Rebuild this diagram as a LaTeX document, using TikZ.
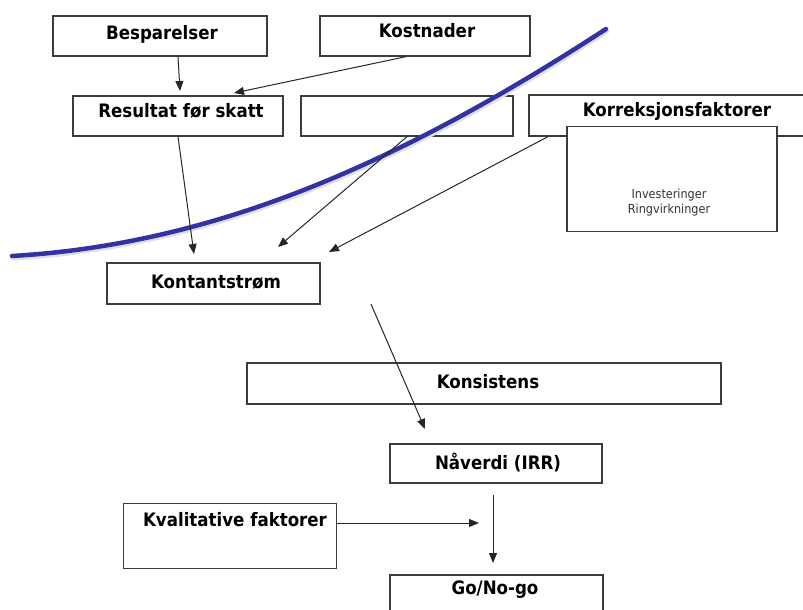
\documentclass[tikz,border=0pt]{standalone}
\usepackage{fontspec}
\setmainfont{DejaVu Sans}[FakeStretch=0.9]
\usetikzlibrary{arrows.meta}
\definecolor{curveblue}{RGB}{50,50,165}
\definecolor{boxline}{RGB}{60,60,60}
\tikzset{
  box/.style={draw=boxline, line width=1.3pt, fill=white, inner sep=0pt},
  lab/.style={font=\fontsize{18.5}{20}\selectfont\bfseries, inner sep=0pt, text=black},
  small/.style={font=\fontsize{12.5}{15}\selectfont, inner sep=0pt, align=center, text=black!80},
  arr/.style={draw=black!85, line width=1pt, -{Triangle[length=10pt,width=8pt]}},
}
\begin{document}
\begin{tikzpicture}[x=1pt,y=-1pt]
\useasboundingbox (0,0) rectangle (803,610);
\clip (0,0) rectangle (803,610);
% boxes
\node[box, minimum width=214, minimum height=40] (bes) at (160,36) {};
\node[box, minimum width=210, minimum height=40] (kos) at (425,36) {};
\node[box, minimum width=210, minimum height=40] (res) at (178,116) {};
\node[box, minimum width=212, minimum height=40] (mid) at (407,116) {};
\node[box, minimum width=290, minimum height=41] (kor) at (674,115.5) {};
\node[box, minimum width=210, minimum height=105] (inn) at (672,179) {};
\node[box, minimum width=213, minimum height=41] (kon) at (213.5,283.5) {};
\node[box, minimum width=474, minimum height=41] (kons) at (484,383.5) {};
\node[box, minimum width=212, minimum height=39] (nav) at (496,463.5) {};
\node[box, minimum width=213, minimum height=65] (kva) at (230,536) {};
\node[box, minimum width=213, minimum height=50] (go) at (496.5,600) {};
% texts
\node[lab] (besT) at (162,34) {Besparelser};
\node[lab] (kosT) at (427,31) {Kostnader};
\node[lab] (resT) at (181,111) {Resultat før skatt};
\node[lab] (korT) at (677,111) {Korreksjonsfaktorer};
\node[small] (innT) at (669,203) {Investeringer\\Ringvirkninger};
\node[lab] (konT) at (216,282) {Kontantstrøm};
\node[lab] (konsT) at (488,382) {Konsistens};
\node[lab] (navT) at (498,462) {Nåverdi (IRR)};
\node[lab] (kvaT) at (235,520) {Kvalitative faktorer};
\node[lab] (goT) at (495,590) {Go/No-go};
% blue curve
\draw[black!12, line width=5pt, line cap=round] (13,258) .. controls (221,246) and (407,161) .. (607,31);
\draw[curveblue, line width=4.5pt, line cap=round] (12,256) .. controls (220,244) and (406,159) .. (606,29);
% arrow end points
\coordinate (a1) at (180,91);
\coordinate (a2) at (234,93);
\coordinate (a3) at (194,254);
\coordinate (a4) at (278,247);
\coordinate (a5) at (329,252);
\coordinate (s6) at (371,304);
\coordinate (a6) at (425,429);
\coordinate (a7) at (479,523);
\coordinate (s8) at (493,495);
\coordinate (a8) at (493,563);
% arrows
\draw[arr] (bes.south -| 178,0) -- (a1);
\draw[arr] (kos.south -| 406,0) -- (a2);
\draw[arr] (res.south -| 178,0) -- (a3);
\draw[arr] (mid.south -| 407,0) -- (a4);
\draw[arr] (kor.south -| 548,0) -- (a5);
\draw[arr] (s6) -- (a6);
\draw[arr] (kva.east |- a7) -- (a7);
\draw[arr] (s8) -- (a8);
\end{tikzpicture}
\end{document}
